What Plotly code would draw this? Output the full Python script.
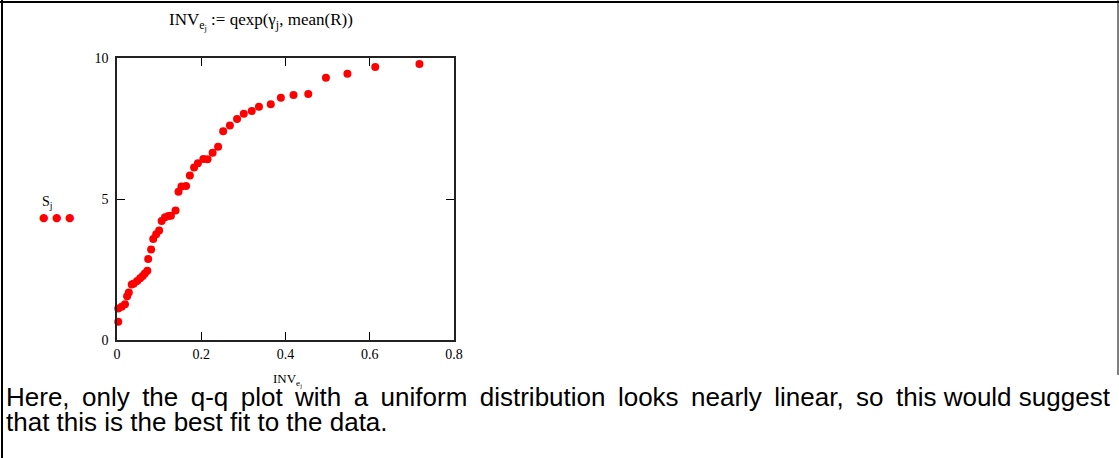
import plotly.graph_objects as go

# Data
inv_e = [0.003, 0.003, 0.011, 0.019, 0.024, 0.028, 0.035, 0.040, 0.048, 0.055,
         0.061, 0.066, 0.072, 0.074, 0.081, 0.086, 0.093, 0.100, 0.106, 0.114,
         0.122, 0.128, 0.139, 0.146, 0.153, 0.164, 0.173, 0.183, 0.192, 0.205,
         0.215, 0.227, 0.240, 0.252, 0.268, 0.285, 0.301, 0.320, 0.337, 0.365,
         0.389, 0.419, 0.454, 0.496, 0.547, 0.613, 0.718]
s_j = [0.65, 1.12, 1.18, 1.27, 1.55, 1.68, 1.97, 2.00, 2.09, 2.19,
       2.27, 2.36, 2.46, 2.87, 3.21, 3.58, 3.75, 3.88, 4.22, 4.35,
       4.40, 4.41, 4.59, 5.26, 5.44, 5.46, 5.83, 6.12, 6.27, 6.42,
       6.41, 6.64, 6.85, 7.40, 7.61, 7.84, 8.02, 8.12, 8.27, 8.36,
       8.59, 8.69, 8.72, 9.30, 9.44, 9.68, 9.79]
x_ticks = [0, 0.2, 0.4, 0.6, 0.8]
x_tick_text = ["0", "0.2", "0.4", "0.6", "0.8"]
y_ticks = [0, 5, 10]
y_tick_text = ["0", "5", "10"]

W, H = 1119, 458
L, R, T, B = 117, 454, 58, 340

serif = "Liberation Serif"
fig = go.Figure()
fig.add_trace(go.Scatter(
    x=inv_e, y=s_j, mode="markers",
    marker=dict(color="#ff0000", size=8, line=dict(width=0)),
    showlegend=False, cliponaxis=False,
))

axis_common = dict(
    showgrid=False, zeroline=False, showline=True, mirror="ticks",
    linecolor="#222222", linewidth=1.6, ticks="inside", ticklen=8,
    tickcolor="black", tickwidth=1,
    tickfont=dict(family=serif, size=14, color="black"),
)
fig.update_layout(
    width=W, height=H,
    margin=dict(l=L, r=W - R, t=T, b=H - B),
    paper_bgcolor="white", plot_bgcolor="white",
    xaxis=dict(range=[0, 0.8], tickvals=x_ticks, ticktext=x_tick_text, **axis_common),
    yaxis=dict(range=[0, 10], tickvals=y_ticks, ticktext=y_tick_text, ticklabelstandoff=4, **axis_common),
    showlegend=False,
)

# pixel -> paper (paper is the plot area in plotly)
def px(x):
    return (x - L) / (R - L)

def py(y):
    return (B - y) / (B - T)

annots = [
    dict(text="INV<sub>e<sub>j</sub></sub> := qexp(γ<sub>j</sub>, mean(R))",
         x=px(261), y=py(21), font=dict(family=serif, size=17, color="black")),
    dict(text="S<sub>j</sub>", x=px(47), y=py(202),
         font=dict(family=serif, size=14, color="black")),
    dict(text="INV<sub>e<sub>j</sub></sub>", x=px(287), y=py(380),
         font=dict(family=serif, size=13, color="black")),
]
for dx in (44, 57, 70):
    annots.append(dict(text="●", x=px(dx), y=py(217),
                       font=dict(family="DejaVu Sans", size=11, color="#ff0000")))
for a in annots:
    fig.add_annotation(xref="paper", yref="paper", showarrow=False,
                       xanchor="center", yanchor="middle", **a)

TS = "\u2009"
line1_words = "Here, only the q-q plot with a uniform distribution looks nearly linear, so this would suggest".split(" ")
line1 = ""
for k, w in enumerate(line1_words):
    if k > 0:
        line1 += " " + (TS if k < 14 else "")
    line1 += w
text_lines = [line1, "that this is the best fit to the data."]
for i, line in enumerate(text_lines):
    fig.add_annotation(xref="paper", yref="paper", showarrow=False,
                       xanchor="left", yanchor="middle",
                       x=px(4), y=py(397 + 25 * i), text=line,
                       font=dict(family="Liberation Sans", size=26, color="black"))

# page frame lines
fig.add_shape(type="line", xref="paper", yref="paper", x0=px(0), x1=px(W), y0=py(2), y1=py(2),
              line=dict(color="black", width=2))
fig.add_shape(type="line", xref="paper", yref="paper", x0=px(2), x1=px(2), y0=py(0), y1=py(H),
              line=dict(color="black", width=2))
fig.add_shape(type="line", xref="paper", yref="paper", x0=px(1118), x1=px(1118), y0=py(0), y1=py(375),
              line=dict(color="black", width=1))

fig.write_html("out.html", config={"displayModeBar": False},
               post_script="document.body.style.margin='0';")
